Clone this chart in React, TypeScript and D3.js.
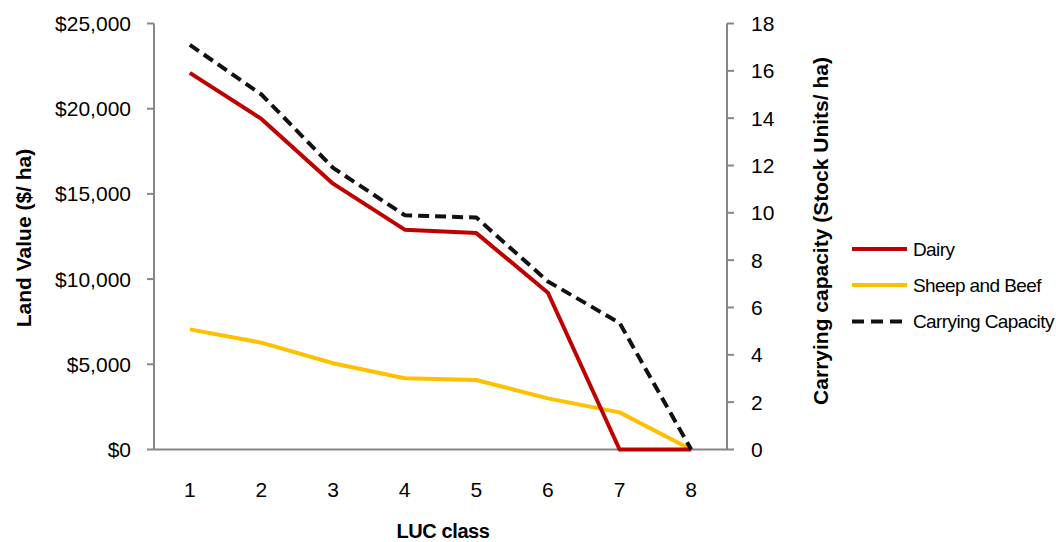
import React from "react";
import * as d3 from "d3";

const categories = ["1", "2", "3", "4", "5", "6", "7", "8"];
const dairy = [22100, 19400, 15600, 12900, 12700, 9200, 0, 0];
const sheepBeef = [7050, 6270, 5060, 4180, 4080, 3000, 2180, 0];
const carrying = [17.1, 15.0, 11.9, 9.9, 9.8, 7.1, 5.35, 0];
const leftTicks = [0, 5000, 10000, 15000, 20000, 25000];
const rightTicks = [0, 2, 4, 6, 8, 10, 12, 14, 16, 18];

const FONT = "'Liberation Sans', Arial, sans-serif";
const AXIS = "#868686";
const RED = "#C00000";
const YELLOW = "#FFC000";
const BLACK = "#111111";

export default function App() {
  const left = 154, right = 727, top = 23.5, bottom = 449.5;
  const x = d3.scaleBand<string>().domain(categories).range([left, right]);
  const cx = (c: string) => (x(c) as number) + x.bandwidth() / 2;
  const yL = d3.scaleLinear().domain([0, 25000]).range([bottom, top]);
  const yR = d3.scaleLinear().domain([0, 18]).range([bottom, top]);
  const fmt = (v: number) => "$" + d3.format(",")(v);

  const lineL = d3.line<number>().x((_, i) => cx(categories[i])).y((d) => yL(d));
  const lineR = d3.line<number>().x((_, i) => cx(categories[i])).y((d) => yR(d));

  const legend = [
    { label: "Dairy", color: RED, dash: undefined as string | undefined },
    { label: "Sheep and Beef", color: YELLOW, dash: undefined },
    { label: "Carrying Capacity", color: BLACK, dash: "12,7" },
  ];
  const legendY = [249, 285, 321.5];

  return (
    <svg
      width={1056}
      height={542}
      style={{ position: "absolute", left: 0, top: 0, background: "#fff" }}
      fontFamily={FONT}
    >
      <rect x={0} y={0} width={1056} height={542} fill="#fff" />
      {/* axes */}
      <line x1={left} x2={left} y1={top} y2={bottom} stroke={AXIS} strokeWidth={2} />
      <line x1={right} x2={right} y1={top} y2={bottom} stroke={AXIS} strokeWidth={2} />
      <line x1={left} x2={right} y1={bottom} y2={bottom} stroke={AXIS} strokeWidth={2} />
      {leftTicks.map((t) => (
        <g key={"l" + t}>
          <line x1={left - 7} x2={left} y1={yL(t)} y2={yL(t)} stroke={AXIS} strokeWidth={2} />
          <text x={131} y={yL(t) + 7.5} textAnchor="end" fontSize={21} fill="#000">
            {fmt(t)}
          </text>
        </g>
      ))}
      {rightTicks.map((t) => (
        <g key={"r" + t}>
          <line x1={right} x2={right + 7} y1={yR(t)} y2={yR(t)} stroke={AXIS} strokeWidth={2} />
          <text x={751} y={yR(t) + 7.5} textAnchor="start" fontSize={21} fill="#000">
            {t}
          </text>
        </g>
      ))}
      {categories.map((c) => (
        <text key={"x" + c} x={cx(c)} y={497} textAnchor="middle" fontSize={21} fill="#000">
          {c}
        </text>
      ))}
      {/* axis titles */}
      <text x={443} y={538} textAnchor="middle" fontSize={20} fontWeight="bold" letterSpacing={-0.4}>
        LUC class
      </text>
      <text
        transform={`translate(31,238) rotate(-90)`}
        textAnchor="middle"
        fontSize={21}
        fontWeight="bold"
      >
        Land Value ($/ ha)
      </text>
      <text
        transform={`translate(828,231) rotate(-90)`}
        textAnchor="middle"
        fontSize={21}
        fontWeight="bold"
      >
        Carrying capacity (Stock Units/ ha)
      </text>
      {/* series */}
      <path d={lineL(sheepBeef) || ""} fill="none" stroke={YELLOW} strokeWidth={4} strokeLinejoin="round" />
      <path d={lineL(dairy) || ""} fill="none" stroke={RED} strokeWidth={4} strokeLinejoin="round" />
      <path
        d={lineR(carrying) || ""}
        fill="none"
        stroke={BLACK}
        strokeWidth={4}
        strokeDasharray="11,6"
        strokeLinejoin="round"
      />
      {/* legend */}
      {legend.map((l, i) => (
        <g key={l.label}>
          <line
            x1={852}
            x2={907}
            y1={legendY[i]}
            y2={legendY[i]}
            stroke={l.color}
            strokeWidth={4}
            strokeDasharray={l.dash}
          />
          <text x={913} y={legendY[i] + 6.5} fontSize={19} letterSpacing={-0.6} fill="#000">
            {l.label}
          </text>
        </g>
      ))}
    </svg>
  );
}
